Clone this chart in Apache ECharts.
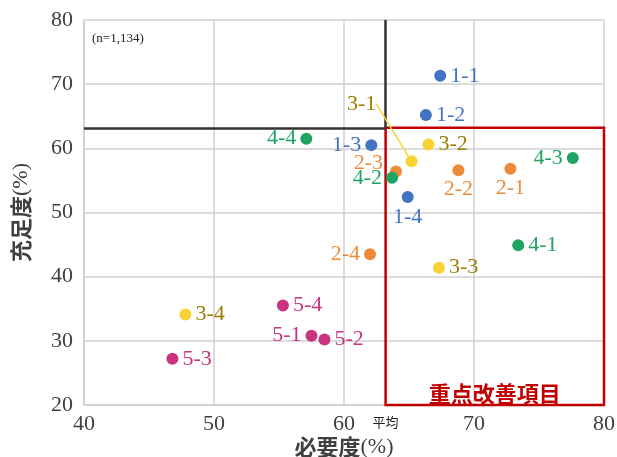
<!DOCTYPE html>
<html><head><meta charset="utf-8">
<script src="https://cdn.jsdelivr.net/npm/echarts@6/dist/echarts.min.js"></script>
<style>html,body{margin:0;padding:0;background:#fff}#c{width:617px;height:457px}</style>
</head><body><div id="c"></div>
<script>
// ---- data ----
const itemLabels = ['1-1','1-2','1-3','1-4','2-1','2-2','2-3','2-4','3-1','3-2','3-3','3-4','4-1','4-2','4-3','4-4','5-1','5-2','5-3','5-4'];
const necessity = [67.4,66.3,62.1,64.9,72.8,68.8,64.0,62.0,65.2,66.5,67.3,47.8,73.4,63.7,77.6,57.1,57.5,58.5,46.8,55.3];
const satisfaction = [71.3,65.2,60.5,52.4,56.8,56.6,56.4,43.5,58.0,60.6,41.4,34.1,44.9,55.4,58.5,61.5,30.8,30.2,27.2,35.5];
const groups = ['1','2','3','4','5'];
const averageNecessity = 63.2;
const averageSatisfaction = 63.2;
const xTicks = [40,50,60,70,80];
const yTicks = [20,30,40,50,60,70,80];
const sampleNote = '(n=1,134)';
const focusLabel = '重点改善項目';
const averageLabel = '平均';

// ---- styles ----
const dotColors = {'1':'#4472C4','2':'#ED8B3A','3':'#F9D334','4':'#1FA463','5':'#C8347F'};
const textColors = {'1':'#4472C4','2':'#ED8B3A','3':'#9A7F00','4':'#1FA463','5':'#C8347F'};
const labelPlacement = {
  '1-3':{position:'left',distance:4},
  '2-3':{position:'left',distance:7,shift:[0,-8]},
  '4-2':{position:'left',distance:4},
  '2-4':{position:'left',distance:4},
  '4-3':{position:'left',distance:4},
  '4-4':{position:'left',distance:4},
  '5-1':{position:'left',distance:4},
  '1-4':{position:'bottom',distance:3},
  '2-1':{position:'bottom',distance:2},
  '2-2':{position:'bottom',distance:2},
  '3-1':{position:'top',distance:4,shift:[-50,-36],leader:true}
};
const serif = '"Liberation Serif","DejaVu Serif",serif';
const cjk = '"Noto Sans CJK JP","Noto Sans CJK SC",sans-serif';

const series = groups.map((g, gi) => {
  const data = [];
  itemLabels.forEach((name, i) => {
    if (name.split('-')[0] !== g) return;
    const p = labelPlacement[name] || {position:'right',distance:4};
    const item = {name, value:[necessity[i], satisfaction[i]],
      label:{position:p.position, distance:p.distance}};
    if (p.leader) {
      item.labelLine = {show:true, lineStyle:{color:dotColors[g], width:1.5}};
    }
    data.push(item);
  });
  const s = {
    type:'scatter', name:'G'+g, data, symbolSize:12, z:5,
    itemStyle:{color:dotColors[g], opacity:1},
    label:{show:true, formatter:'{b}', color:textColors[g], fontFamily:serif, fontSize:22},
    labelLayout: function (params) {
      const nm = data[params.dataIndex] && data[params.dataIndex].name;
      const p = labelPlacement[nm];
      if (p && p.shift) return {dx:p.shift[0], dy:p.shift[1]};
      return {};
    }
  };
  if (gi === 0) {
    s.markArea = {silent:true, z:2,
      itemStyle:{color:'rgba(0,0,0,0)', borderColor:'#C00000', borderWidth:2.5},
      label:{show:true, position:'insideBottom', distance:2, formatter:focusLabel, color:'#C00000', fontSize:22, fontWeight:'bold', fontFamily:cjk},
      data:[[{coord:[averageNecessity, averageSatisfaction]},{coord:[80,20]}]]};
    s.markLine = {silent:true, symbol:'none', z:3,
      lineStyle:{color:'#333333', width:2.5, type:'solid'}, label:{show:false},
      data:[
        [{coord:[40, averageSatisfaction]},{coord:[averageNecessity, averageSatisfaction]}],
        [{coord:[averageNecessity, 80]},{coord:[averageNecessity, averageSatisfaction]}]
      ]};
    s.markPoint = {silent:true, symbol:'circle', symbolSize:0,
      label:{show:true, formatter:averageLabel, offset:[0,17], color:'#222', fontSize:13, fontFamily:cjk},
      data:[{coord:[averageNecessity, 20]}]};
  }
  return s;
});

const chart = echarts.init(document.getElementById('c'), null, {renderer:'canvas'});
const gridLine = {show:true, lineStyle:{color:'#D0D0D0', width:1.5}};
chart.setOption({
  animation:false,
  grid:{left:84, right:13, top:20, bottom:52, containLabel:false, outerBoundsMode:'none'},
  xAxis:{type:'value', min:xTicks[0], max:xTicks[xTicks.length-1], interval:10,
    axisLine:{show:true, lineStyle:{color:'#D0D0D0', width:1.5}}, axisTick:{show:false},
    splitLine:gridLine,
    axisLabel:{color:'#404040', fontFamily:serif, fontSize:22, margin:8},
    name:'{a|必要度}{b|(%)}', nameLocation:'middle', nameGap:31, nameMoveOverlap:false,
    nameTextStyle:{rich:{a:{fontFamily:cjk, fontSize:22, fontWeight:'bold', color:'#404040'}, b:{fontFamily:serif, fontSize:22, color:'#404040'}}}
  },
  yAxis:{type:'value', min:yTicks[0], max:yTicks[yTicks.length-1], interval:10,
    axisLine:{show:true, lineStyle:{color:'#D0D0D0', width:1.5}}, axisTick:{show:false},
    splitLine:gridLine,
    axisLabel:{color:'#404040', fontFamily:serif, fontSize:22, margin:11},
    name:'{a|充足度}{b|(%)}', nameLocation:'middle', nameGap:52, nameRotate:90,
    nameTextStyle:{rich:{a:{fontFamily:cjk, fontSize:22, fontWeight:'bold', color:'#404040'}, b:{fontFamily:serif, fontSize:22, color:'#404040'}}}
  },
  graphic:[{type:'text', left:92, top:32, z:10, style:{text:sampleNote, font:'13px ' + serif, fill:'#222'}}],
  series
});
</script></body></html>
